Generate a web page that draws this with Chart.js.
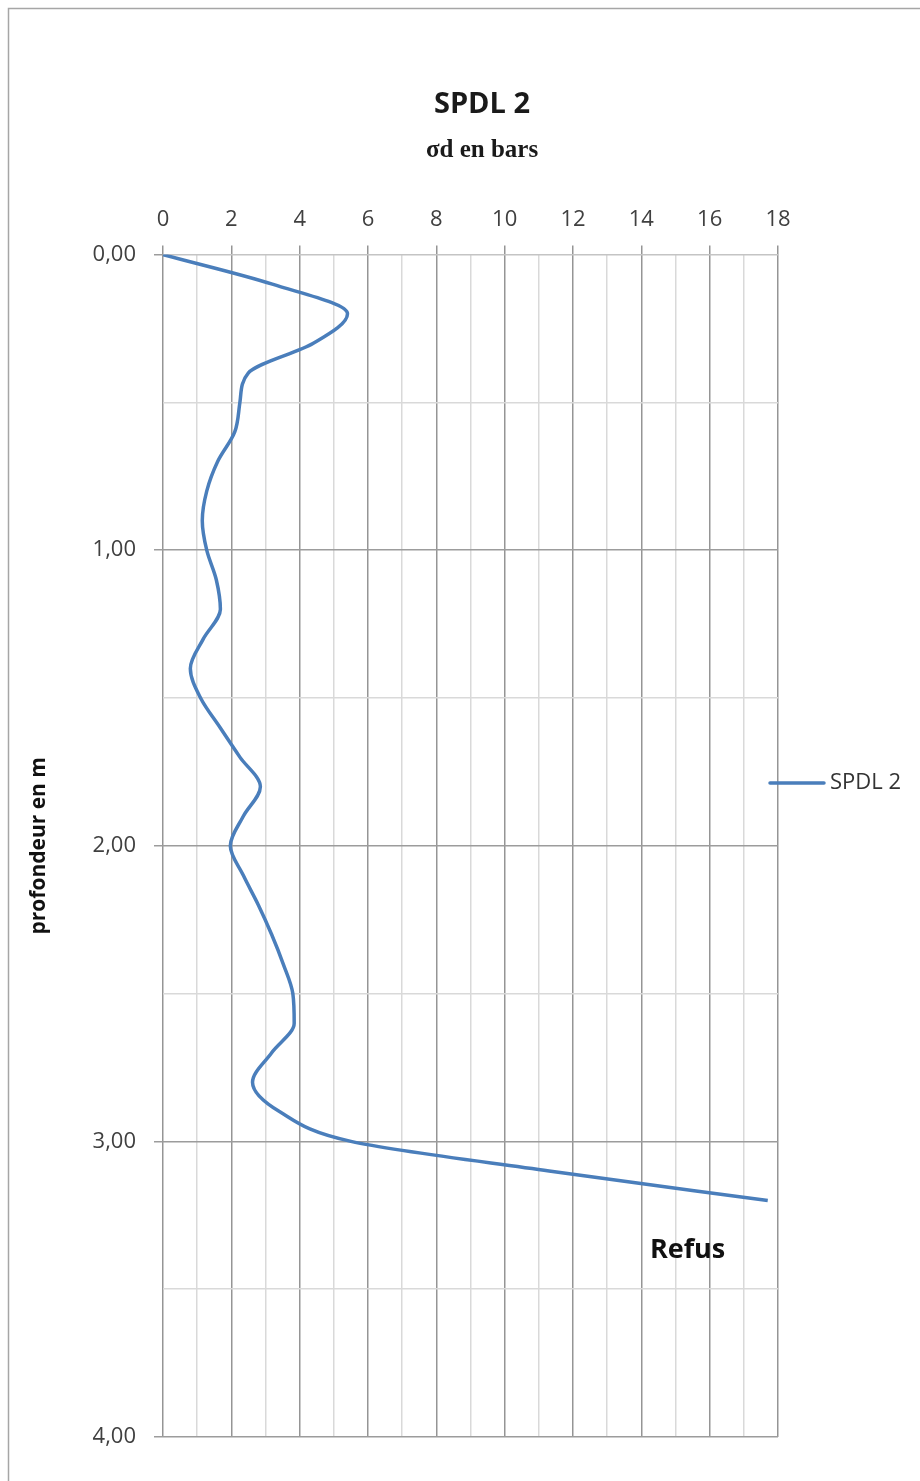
<!DOCTYPE html>
<html>
<head>
<meta charset="utf-8">
<title>SPDL 2</title>
<script src="https://cdn.jsdelivr.net/npm/chart.js@4.4.1/dist/chart.umd.min.js"></script>
<style>
  html, body { margin: 0; padding: 0; background: #fff; }
  canvas { display: block; }
</style>
</head>
<body>
<canvas id="chart" width="920" height="1481"></canvas>
<script>
// profondeur (m) and sigma d (bars)
const depths = [0.0, 0.1, 0.2, 0.3, 0.4, 0.5, 0.6, 0.7, 0.8, 0.9,
                1.0, 1.1, 1.2, 1.3, 1.4, 1.5, 1.6, 1.7, 1.8, 1.9,
                2.0, 2.1, 2.2, 2.3, 2.4, 2.5, 2.6, 2.7, 2.8, 2.9,
                3.0, 3.1, 3.2];
const sigmaD = [0.0, 3.2, 5.4, 4.4, 2.5, 2.25, 2.1, 1.6, 1.28, 1.15,
                1.28, 1.56, 1.68, 1.18, 0.8, 1.1, 1.67, 2.25, 2.85, 2.35,
                1.97, 2.35, 2.79, 3.18, 3.52, 3.8, 3.84, 3.18, 2.62, 3.42,
                5.5, 11.3, 17.7];

const seriesLabel = "SPDL 2";
const chartTitle = "SPDL 2";
const chartSubtitle = "σd en bars";
const yTitle = "profondeur en m";
const xTicks = { min: 0, max: 18, step: 1 };
const yTicks = { min: 0, max: 4, step: 0.5 };
const refusNote = { text: "Refus", x: 14.25, y: 3.367 };

const lineBlue = "#4a7ebb";

// white background + outer frame
const framePlugin = {
  id: "frame",
  beforeDraw(chart) {
    const ctx = chart.ctx;
    ctx.save();
    ctx.fillStyle = "#fff";
    ctx.fillRect(0, 0, chart.width, chart.height);
    ctx.strokeStyle = "#a6a6a6";
    ctx.lineWidth = 1.5;
    ctx.strokeRect(8.5, 8.5, 2000, 2000);
    ctx.restore();
  },
};

// legend on the right + "Refus" note
const extrasPlugin = {
  id: "extras",
  afterDraw(chart) {
    const ctx = chart.ctx;
    const xs = chart.scales.x;
    const ys = chart.scales.y;
    ctx.save();

    // legend entry
    ctx.strokeStyle = lineBlue;
    ctx.lineWidth = 3.5;
    ctx.lineCap = "round";
    ctx.beginPath();
    ctx.moveTo(770, 783);
    ctx.lineTo(824, 783);
    ctx.stroke();
    ctx.fillStyle = "#333";
    ctx.font = "22px 'Open Sans'";
    ctx.textAlign = "left";
    ctx.textBaseline = "middle";
    ctx.fillText(chart.data.datasets[0].label, 830, 783);

    // note near the end of the curve
    ctx.fillStyle = "#111";
    ctx.font = "bold 27px 'Open Sans'";
    ctx.fillText(refusNote.text, xs.getPixelForValue(refusNote.x), ys.getPixelForValue(refusNote.y));
    ctx.restore();
  },
};

function fmtDepth(v) {
  return v.toFixed(2).replace(".", ",");
}

const ctx = document.getElementById("chart").getContext("2d");

new Chart(ctx, {
  type: "scatter",
  data: {
    datasets: [
      {
        label: seriesLabel,
        data: depths.map((d, i) => ({ x: sigmaD[i], y: d })),
        showLine: true,
        borderColor: lineBlue,
        borderWidth: 3.5,
        pointRadius: 0,
        pointHoverRadius: 0,
        cubicInterpolationMode: "monotone",
        fill: false,
      },
    ],
  },
  options: {
    indexAxis: "y",
    responsive: false,
    animation: false,
    devicePixelRatio: 1,
    layout: { padding: { left: 44, right: 0, top: 0, bottom: 44 } },
    plugins: {
      legend: { display: false },
      tooltip: { enabled: false },
      title: {
        display: true,
        text: chartTitle,
        color: "#1a1a1a",
        font: { family: "'Open Sans'", size: 29, weight: "bold", lineHeight: 1.2 },
        padding: { top: 87.6, bottom: 0 },
      },
      subtitle: {
        display: true,
        text: chartSubtitle,
        color: "#1a1a1a",
        font: { family: "'Liberation Serif'", size: 25, weight: "bold", lineHeight: 1.2 },
        padding: { top: 13.6, bottom: 0 },
      },
    },
    scales: {
      x: {
        type: "linear",
        position: "top",
        min: xTicks.min,
        max: xTicks.max,
        afterFit(scale) {
          scale.height = 88.6;
        },
        ticks: {
          stepSize: xTicks.step,
          color: "#404040",
          padding: 13,
          font: { family: "'Open Sans'", size: 22 },
          callback: (v) => (v % 2 === 0 ? String(v) : ""),
        },
        grid: {
          tickLength: 9,
          lineWidth: 1.5,
          color: (c) => (c.tick && c.tick.value % 2 === 0 ? "#959595" : "#d9d9d9"),
          tickColor: (c) => (c.tick && c.tick.value % 2 === 0 ? "#959595" : "rgba(0,0,0,0)"),
        },
        border: { display: false },
      },
      y: {
        type: "linear",
        position: "left",
        reverse: true,
        min: yTicks.min,
        max: yTicks.max,
        afterFit(scale) {
          scale.width = 119;
        },
        title: {
          display: true,
          text: yTitle,
          color: "#111",
          font: { family: "'Open Sans'", size: 21, weight: "bold", lineHeight: 1.2 },
          padding: { top: -17.6, bottom: 0 },
        },
        ticks: {
          stepSize: yTicks.step,
          color: "#404040",
          padding: 18,
          font: { family: "'Open Sans'", size: 22 },
          callback: (v) => (Number.isInteger(v) ? fmtDepth(v) : ""),
        },
        grid: {
          tickLength: 9,
          lineWidth: 1.5,
          color: (c) => {
            if (!c.tick) return "#d9d9d9";
            if (c.tick.value === 0) return "#c4c4c4";
            return Number.isInteger(c.tick.value) ? "#9c9c9c" : "#d9d9d9";
          },
          tickColor: (c) => (c.tick && Number.isInteger(c.tick.value) ? "#9c9c9c" : "rgba(0,0,0,0)"),
        },
        border: { display: false },
      },
      // empty right-hand axis that keeps room for the legend
      yRight: {
        type: "linear",
        position: "right",
        min: yTicks.min,
        max: yTicks.max,
        afterFit(scale) {
          scale.width = 142;
        },
        ticks: { display: false },
        grid: { display: false },
        border: { display: false },
      },
    },
  },
  plugins: [framePlugin, extrasPlugin],
});
</script>
</body>
</html>
